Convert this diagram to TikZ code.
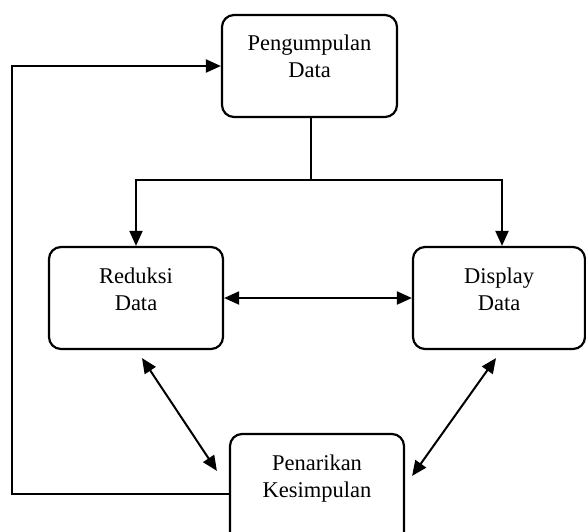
\documentclass[tikz,border=0pt]{standalone}
\usepackage{fontspec}
\setmainfont{Liberation Serif}
\usepackage{tikz}
\usetikzlibrary{arrows.meta,positioning}
\tikzset{
    process-box/.style = {draw=black, fill=white, line width=2.2pt, rectangle, rounded corners=12pt, minimum width=174pt, minimum height=102pt},
    process-text/.style = {align=center, inner sep=0pt, font=\fontsize{22.5pt}{27pt}\selectfont},
    flow/.style = {line width=2pt, -{Triangle[length=15pt,width=13pt]}},
    both-flow/.style = {line width=2pt, {Triangle[length=15pt,width=13pt]}-{Triangle[length=15pt,width=13pt]}},
}

\begin{document}
\begin{tikzpicture}[x=1pt, y=-1pt]
\useasboundingbox (0,0) rectangle (586,531);
% boxes
\node [process-box, minimum width=175pt] (pengumpulan) at (309.5,66) {};
\node [process-text, below=21pt] (pengumpulan-text) at (pengumpulan.north) {Pengumpulan\\Data};
\node [process-box] (reduksi) at (136,298) {};
\node [process-text, below=22pt] (reduksi-text) at (reduksi.north) {Reduksi\\Data};
\node [process-box, minimum width=172pt] (display) at (499,298) {};
\node [process-text, below=22pt] (display-text) at (display.north) {Display\\Data};
\node [process-box, minimum height=120pt] (penarikan) at (317,494) {};
\node [process-text, below=22pt] (penarikan-text) at (penarikan.north) {Penarikan\\Kesimpulan};

% connectors
\coordinate (split) at (311,180);
\coordinate (loop) at (12,494);
\draw [line width=2pt] (split |- pengumpulan.south) -- (split);
\draw [flow] (split) -| ([xshift=3pt]display.north);
\draw [flow] (split) -| (reduksi.north);
\draw [both-flow] (reduksi.east) -- (display.west);
\draw [both-flow] ([xshift=6pt,yshift=-8pt]reduksi.south) -- ([xshift=-12pt,yshift=-38pt]penarikan.north west);
\draw [both-flow] ([xshift=-3pt,yshift=-8pt]display.south) -- ([xshift=7pt,yshift=-43pt]penarikan.north east);
\draw [flow] (penarikan.west) -- (loop) |- (pengumpulan.west);
\end{tikzpicture}
\end{document}
